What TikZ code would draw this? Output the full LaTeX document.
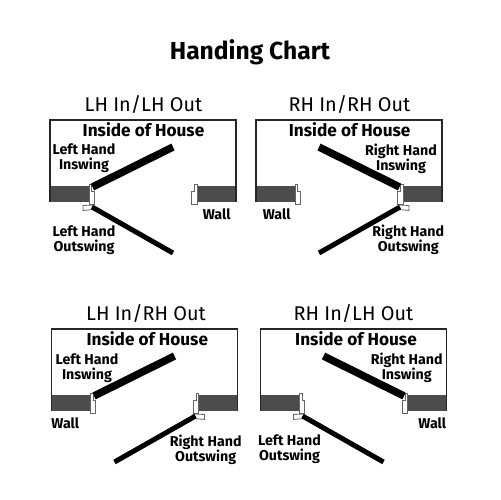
\documentclass[tikz,border=0pt]{standalone}
\usepackage{fontspec}
\setmainfont{Fira Sans}
\tikzset{
  x=0.02cm,y=-0.02cm,
  frameline/.style={draw=black!85,line width=1.5*0.569pt},
  wallfill/.style={fill=black!70,draw=none},
  jambline/.style={draw=black!60,fill=white,line width=0.8*0.569pt},
  indoor/.style={draw=black,line width=7.5*0.569pt},
  outdoor/.style={draw=black,line width=5*0.569pt},
  maintitle/.style={font=\bfseries\fontsize{14}{16}\selectfont,inner sep=0pt},
  paneltitle/.style={font=\fontsize{11.3}{13}\selectfont,inner sep=0pt},
  insidelabel/.style={font=\bfseries\fontsize{9.8}{11}\selectfont,inner sep=0pt},
  swinglabel/.style={font=\bfseries\fontsize{8.1}{8.5}\selectfont,inner sep=0pt,align=center},
  walllabel/.style={font=\bfseries\fontsize{8.1}{8.5}\selectfont,inner sep=0pt},
}
% frame and both wall stubs, local pixel coordinates
\newcommand{\panelframe}{%
  \path[wallfill] (0,66) rectangle (38.5,82);
  \path[wallfill] (147.5,66) rectangle (186,82);
  \draw[frameline] (0,82) -- (0,0) -- (186,0) -- (186,82);
}
% jamb of a wall stub, drawn in left-stub orientation
\newcommand{\jambA}{\draw[jambline] (39,64) -- (41.6,64) -- (41.6,71.7) -- (44.3,71.7) -- (44.3,84) -- (39,84) -- cycle;}
\newcommand{\insw}{\draw[indoor] (42.5,67) -- (123,27);}
\newcommand{\outsw}{%
  \draw[jambline] (33,85.5) -- (43,85) -- (43,89.5) -- (33,90.5) -- cycle;
  \draw[outdoor] (42,87) -- (123,133);}
\begin{document}
\begin{tikzpicture}
\useasboundingbox (0,0) rectangle (500,500);
\node[maintitle] (title) at (250,52) {Handing Chart};

% panel 1
\begin{scope}[shift={(50,120)}]
  \panelframe \jambA \insw \outsw
  \begin{scope}[shift={(186,0)},xscale=-1]\jambA\end{scope}
\end{scope}
\node[paneltitle] (t1) at (143.5,105) {LH In/LH Out};
\node[insidelabel] (i1) at (143.5,130) {Inside of House};
\node[swinglabel] (a1) at (84,158.5) {Left Hand\\Inswing};
\node[swinglabel] (b1) at (84,240.5) {Left Hand\\Outswing};
\node[walllabel] (w1) at (216.7,214) {Wall};

% panel 2
\begin{scope}[shift={(442,120)},xscale=-1]
  \panelframe \jambA \insw \outsw
  \begin{scope}[shift={(186,0)},xscale=-1]\jambA\end{scope}
\end{scope}
\node[paneltitle] (t2) at (349.5,105) {RH In/RH Out};
\node[insidelabel] (i2) at (349.7,130) {Inside of House};
\node[swinglabel] (a2) at (401,158.5) {Right Hand\\Inswing};
\node[swinglabel] (b2) at (408.3,240) {Right Hand\\Outswing};
\node[walllabel] (w2) at (276.7,214) {Wall};

% panel 3
\begin{scope}[shift={(51.5,329)}]
  \panelframe \jambA \insw
  \begin{scope}[shift={(186,0)},xscale=-1]\jambA\outsw\end{scope}
\end{scope}
\node[paneltitle] (t3) at (146,314) {LH In/RH Out};
\node[insidelabel] (i3) at (147.3,339) {Inside of House};
\node[swinglabel] (a3) at (87,368) {Left Hand\\Inswing};
\node[swinglabel] (b3) at (205.7,449.5) {Right Hand\\Outswing};
\node[walllabel] (w3) at (65.3,423) {Wall};

% panel 4
\begin{scope}[shift={(446.5,329)},xscale=-1]
  \panelframe \jambA \insw
  \begin{scope}[shift={(186,0)},xscale=-1]\jambA\outsw\end{scope}
\end{scope}
\node[paneltitle] (t4) at (353.5,314) {RH In/LH Out};
\node[insidelabel] (i4) at (356,339) {Inside of House};
\node[swinglabel] (a4) at (406.7,368) {Right Hand\\Inswing};
\node[swinglabel] (b4) at (289.5,449.5) {Left Hand\\Outswing};
\node[walllabel] (w4) at (432.3,423) {Wall};
\end{tikzpicture}
\end{document}
